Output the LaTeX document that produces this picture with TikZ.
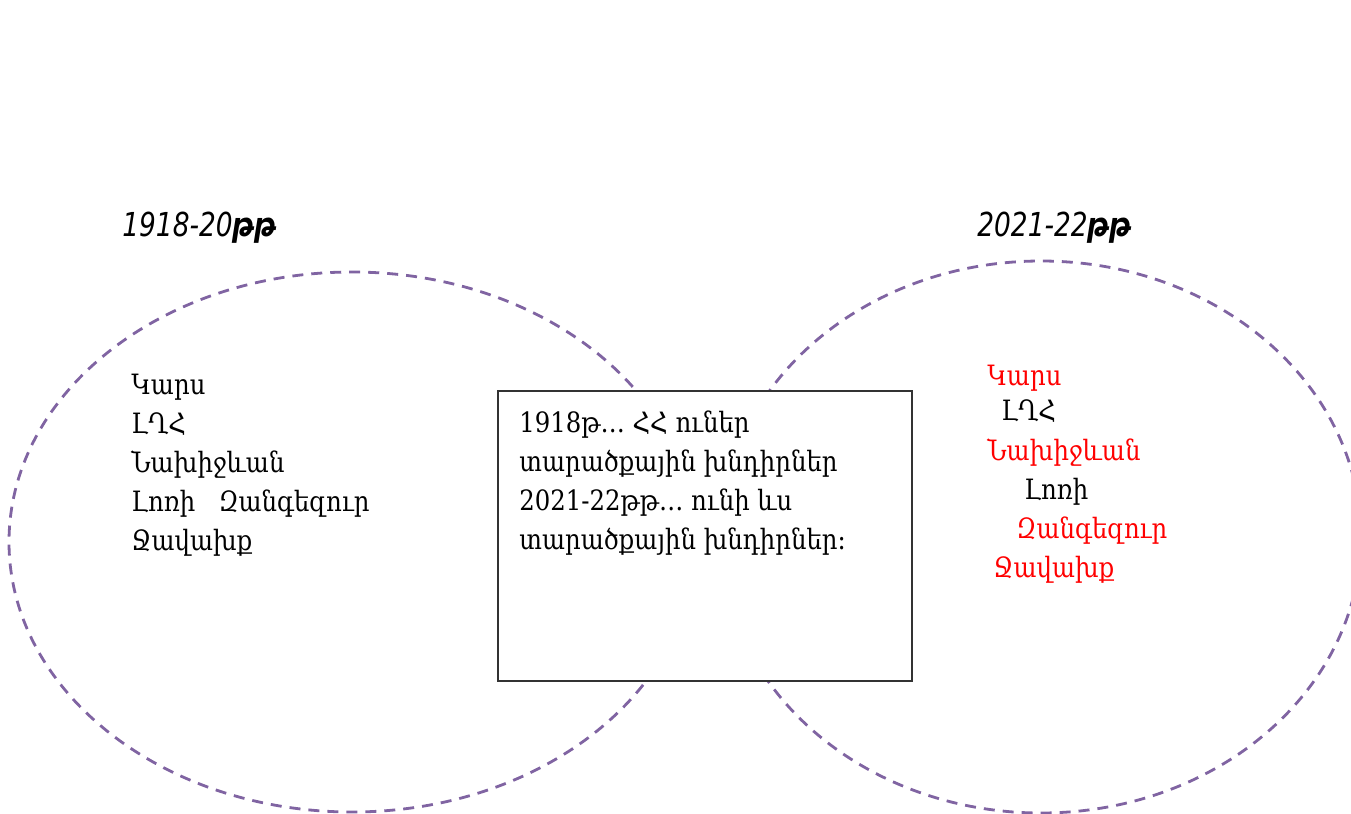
\documentclass[tikz,border=0pt]{standalone}
\usepackage{fontspec}
\setmainfont{DejaVu Serif}[FakeStretch=0.87]
\newfontfamily\headfont{DejaVu Sans}[FakeStretch=0.8]
\usetikzlibrary{positioning}
\definecolor{ringpurple}{HTML}{8064A2}
\tikzset{
  ring/.style={draw=ringpurple, line width=1.4pt, dash pattern=on 5.5pt off 4pt},
  yearlabel/.style={font=\headfont\itshape\fontsize{16.5}{19}\selectfont, anchor=base west, inner sep=0pt},
  place/.style={font=\fontsize{14}{19.5}\selectfont, anchor=base west, inner sep=0pt},
  infobox/.style={draw=black!80, fill=white, line width=.6pt, minimum width=207pt, minimum height=145pt, inner sep=0pt}
}
\begin{document}
\begin{tikzpicture}[x=.5pt,y=-.5pt]
    \useasboundingbox (0,0) rectangle (1351,814);
    \draw[ring] (352,542) ellipse [x radius=171.5pt, y radius=135pt];
    \draw[ring] (1041,537) ellipse [x radius=160pt, y radius=138pt];
    \node[yearlabel] (yearold) at (122,236) {1918-20\textbf{թթ}};
    \node[yearlabel] (yearnew) at (977,236) {2021-22\textbf{թթ}};
    \foreach \t [count=\i] in {Կարս, ԼՂՀ, Նախիջևան, Լոռի\ \ \ Զանգեզուր, Ջավախք}
        \node[place] (old\i) at (131,355+39*\i) {\t};
    \node[infobox] (mid) at (705,536) {};
    \foreach \t [count=\i] in {1918թ… ՀՀ ուներ, տարածքային խնդիրներ, 2021-22թթ… ունի ևս, տարածքային խնդիրներ։}
        \node[place] (mid\i) at (519,393+39*\i) {\t};
    \node[place,red] (new1) at (987,385) {Կարս};
    \node[place] (new2) at (1001,420) {ԼՂՀ};
    \node[place,red] (new3) at (987,460) {Նախիջևան};
    \node[place] (new4) at (1024,499) {Լոռի};
    \node[place,red] (new5) at (1016,538) {Զանգեզուր};
    \node[place,red] (new6) at (993,577) {Ջավախք};
\end{tikzpicture}
\end{document}
